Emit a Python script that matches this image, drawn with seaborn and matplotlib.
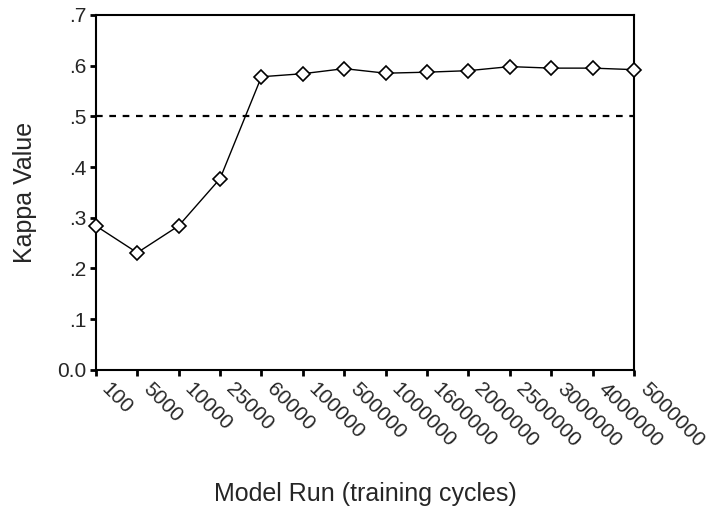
import matplotlib
matplotlib.use("Agg")
import matplotlib.pyplot as plt
import matplotlib.transforms as mtransforms
import seaborn as sns
import pandas as pd

training_cycles = ["100", "5000", "10000", "25000", "60000", "100000", "500000",
                   "1000000", "1600000", "2000000", "2500000", "3000000",
                   "4000000", "5000000"]
kappa = [0.284, 0.231, 0.284, 0.377, 0.578, 0.584, 0.594,
         0.585, 0.587, 0.590, 0.598, 0.595, 0.595, 0.592]
y_ticks = [0.0, 0.1, 0.2, 0.3, 0.4, 0.5, 0.6, 0.7]
y_tick_labels = ["0.0", ".1", ".2", ".3", ".4", ".5", ".6", ".7"]
threshold = 0.5

sns.set_style("white")
plt.rcParams["font.family"] = ["Liberation Sans", "DejaVu Sans"]

df = pd.DataFrame({"run": range(len(training_cycles)), "kappa": kappa})

fig = plt.figure(figsize=(7.10, 5.13), dpi=100)
ax = fig.add_axes([0.135, 0.279, 0.758, 0.692])

ax.axhline(threshold, color="black", lw=1.6, ls=(0, (3, 3)), zorder=1)
sns.lineplot(data=df, x="run", y="kappa", ax=ax, color="black", lw=1.0,
             marker="D", markersize=7, markerfacecolor="white",
             markeredgecolor="black", markeredgewidth=1.2, zorder=3, clip_on=False)

ax.set_xlim(0, len(training_cycles) - 1)
ax.set_ylim(0, 0.7)
ax.set_xticks(range(len(training_cycles)))
ax.set_xticklabels(training_cycles, rotation=-45, ha="left", va="top",
                   rotation_mode="anchor", fontsize=15)
ax.set_yticks(y_ticks)
ax.set_yticklabels(y_tick_labels, fontsize=15)
ax.tick_params(axis="both", direction="out", length=4, width=2, color="black",
               bottom=True, left=True, pad=3)

# nudge the slanted run labels to the right of their ticks
shift = mtransforms.ScaledTranslation(11 / 72, 0, fig.dpi_scale_trans)
for lab in ax.get_xticklabels():
    lab.set_transform(lab.get_transform() + shift)

for s in ax.spines.values():
    s.set_color("black")
    s.set_linewidth(1.5)

ax.set_xlabel("Model Run (training cycles)", fontsize=18, labelpad=22)
ax.set_ylabel("Kappa Value", fontsize=18, labelpad=14)

fig.savefig("out.png", dpi=100)
